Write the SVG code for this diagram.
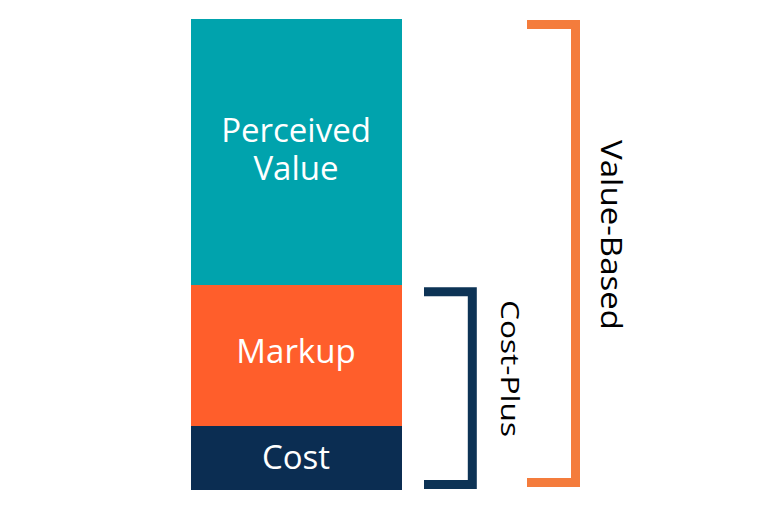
<svg xmlns="http://www.w3.org/2000/svg" width="770" height="506" viewBox="0 0 770 506">
<style>
.lbl{font-family:"Open Sans","Noto Sans","Liberation Sans",sans-serif;font-size:33px;fill:#ffffff;text-anchor:middle}
.side{font-family:"Open Sans","Noto Sans","Liberation Sans",sans-serif;fill:#000000;text-anchor:middle}
.br{fill:none;stroke-width:9;stroke-linejoin:miter;stroke-linecap:butt}
</style>
<rect width="770" height="506" fill="#ffffff"/>
<g id="perceived-value">
<rect x="191" y="19" width="211" height="266" fill="#00A3AD"/>
<text class="lbl" x="296" y="142">Perceived</text>
<text class="lbl" x="296" y="180">Value</text>
</g>
<g id="markup">
<rect x="191" y="285" width="211" height="141" fill="#FF5E2B"/>
<text class="lbl" x="296" y="363">Markup</text>
</g>
<g id="cost">
<rect x="191" y="426" width="211" height="64" fill="#0B2D52"/>
<text class="lbl" x="296" y="469">Cost</text>
</g>
<g id="connectors">
<path class="br" stroke="#0D3355" d="M424,291.7 H472.3 V484.5 H424"/>
<path class="br" stroke="#F47C3C" d="M527,24.5 H575.5 V482.5 H527"/>
</g>
<g id="cost-plus">
<text class="side" font-size="26" textLength="137" lengthAdjust="spacingAndGlyphs" transform="translate(501,368.5) rotate(90)">Cost-Plus</text>
</g>
<g id="value-based">
<text class="side" font-size="29" textLength="190" lengthAdjust="spacingAndGlyphs" transform="translate(601,235) rotate(90)">Value-Based</text>
</g>
</svg>
